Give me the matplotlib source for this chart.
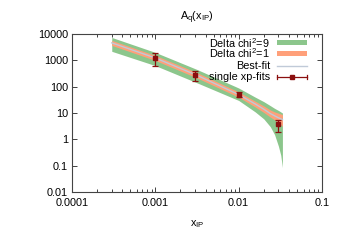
#!/usr/bin/env python3
"""
A_q(x_IP) fit bands with single xp-fit points, gnuplot-like look.
Writes out.png
"""

import matplotlib
matplotlib.use("Agg")
import matplotlib.pyplot as plt
from matplotlib.lines import Line2D

plt.rcParams['font.family'] = ['Liberation Sans', 'DejaVu Sans']
plt.rcParams['mathtext.fontset'] = 'custom'
plt.rcParams['mathtext.rm'] = 'Liberation Sans'

# band / curve data
band_x = [0.0003, 0.001, 0.00316, 0.01, 0.0158, 0.0200, 0.0240, 0.0270, 0.0300, 0.0320, 0.0335]
best_fit = [4600, 1230, 270, 50, 22, 14, 9.5, 7.8, 6.6, 6.0, 5.6]
chi1_lo = [3700, 990, 215, 40, 17, 10.5, 7.0, 5.5, 4.3, 3.6, 3.1]
chi1_hi = [5700, 1530, 340, 63, 28, 18.5, 13, 11, 9.8, 9.2, 8.7]
chi9_lo = [2200, 630, 140, 30, 11, 6.0, 3.0, 1.5, 0.55, 0.25, 0.085]
chi9_hi = [7400, 2000, 450, 89, 40, 27, 19, 15, 12.5, 11, 10]

# single xp-fits
pts_x = [0.001, 0.003, 0.01, 0.030]
pts_y = [1230, 270, 50, 3.9]
pts_lo = [630, 165, 40, 1.95]
pts_hi = [1900, 400, 62, 5.3]

GREEN = '#8cc68c'
ORANGE = '#ffa07a'
BEST = '#c0cad8'
RED = '#8b0f0f'

fig = plt.figure(figsize=(3.45, 2.41), dpi=100)
ax = fig.add_axes([72 / 345, 1 - 192 / 241, 250 / 345, 158 / 241])

ax.fill_between(band_x, chi9_lo, chi9_hi, color=GREEN, lw=0)
ax.fill_between(band_x, chi1_lo, chi1_hi, color=ORANGE, lw=0)
ax.plot(band_x, best_fit, color=BEST, lw=1)

yerr = [[y - lo for y, lo in zip(pts_y, pts_lo)], [hi - y for y, hi in zip(pts_y, pts_hi)]]
ax.errorbar(pts_x, pts_y, yerr=yerr, fmt='s', ms=2.5, color=RED, ecolor=RED,
            elinewidth=0.9, capsize=2, capthick=0.9)

ax.set_xscale('log')
ax.set_yscale('log')
ax.set_xlim(0.0001, 0.1)
ax.set_ylim(0.01, 10000)
ax.set_xticks([0.0001, 0.001, 0.01, 0.1])
ax.set_xticklabels(['0.0001', '0.001', '0.01', '0.1'])
ax.set_yticks([0.01, 0.1, 1, 10, 100, 1000, 10000])
ax.set_yticklabels(['0.01', '0.1', '1', '10', '100', '1000', '10000'])
ax.tick_params(which='both', direction='in', top=True, right=True, labelsize=7.8,
               colors='#222222', labelcolor='black', width=0.6)
ax.tick_params(which='major', length=3.5, pad=3)
ax.tick_params(axis='x', which='major', pad=4)
ax.tick_params(which='minor', length=2)
ax.tick_params(axis='y', which='minor', left=False, right=False)
for s in ax.spines.values():
    s.set_color('#444444')
    s.set_linewidth(0.8)

ax.set_title(r'A$_\mathrm{q}$(x$_\mathrm{IP}$)', fontsize=7.8, pad=10)
ax.set_xlabel(r'x$_\mathrm{IP}$', fontsize=7.8, labelpad=8)

# gnuplot style key, text right aligned before the sample
tr = ax.transAxes
tx = 0.792
hx0, hx1 = 0.82, 0.94
rows = [0.945, 0.878, 0.797, 0.726]
labels = [r'Delta chi$^2$=9', r'Delta chi$^2$=1', 'Best-fit', 'single xp-fits']
for yy, lab in zip(rows, labels):
    ax.text(tx, yy, lab, transform=tr, ha='right', va='center', fontsize=7.8)
h = 0.017
ax.fill([hx0, hx1, hx1, hx0], [rows[0] - h, rows[0] - h, rows[0] + h, rows[0] + h],
        transform=tr, color=GREEN, lw=0)
ax.fill([hx0, hx1, hx1, hx0], [rows[1] - h, rows[1] - h, rows[1] + h, rows[1] + h],
        transform=tr, color=ORANGE, lw=0)
ax.add_line(Line2D([hx0, hx1], [rows[2], rows[2]], transform=tr, color=BEST, lw=1))
ax.add_line(Line2D([hx0, hx1], [rows[3], rows[3]], transform=tr, color=RED, lw=0.9))
for cx in (hx0, hx1):
    ax.add_line(Line2D([cx, cx], [rows[3] - 0.012, rows[3] + 0.012], transform=tr, color=RED, lw=0.9))
ax.add_line(Line2D([(hx0 + hx1) / 2], [rows[3]], transform=tr, color=RED, marker='s', ms=2.5, lw=0))

fig.savefig('out.png', dpi=100)
